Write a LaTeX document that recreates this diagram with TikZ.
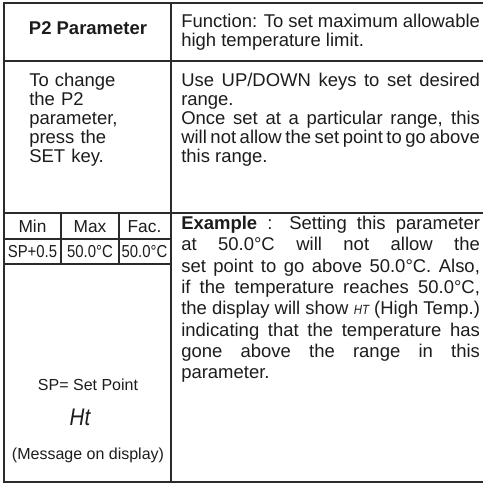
\documentclass[tikz,border=0pt]{standalone}
\usepackage{fontspec}
\setmainfont{Liberation Sans}
\newfontfamily\narrowsf[FakeStretch=0.86]{Liberation Sans}
\usetikzlibrary{positioning}
\definecolor{linegray}{HTML}{2B2B2B}
\definecolor{ink}{HTML}{1C1C1C}
\hyphenpenalty=10000
\exhyphenpenalty=10000
\hbadness=10000
\tikzset{
  tableframe/.style={draw=linegray, line width=1.5pt},
  gridline/.style={draw=linegray, line width=1.0pt},
  head/.style={font=\fontsize{13.85}{14.25}\selectfont\bfseries, text=ink, inner sep=0pt},
  body/.style={
    anchor=north west, inner sep=0pt, text=ink, align=justify,
    text width=#1, font=\fontsize{13.85}{14.25}\selectfont
  },
  body/.default=224pt,
  minihead/.style={font=\fontsize{13}{13}\selectfont, text=ink, inner sep=0pt},
  minival/.style={font=\fontsize{13}{13}\narrowsf, text=ink, inner sep=0pt},
  note/.style={font=\fontsize{12}{12}\selectfont, text=ink, inner sep=0pt}
}

\begin{document}
\begin{tikzpicture}[x=0.75pt,y=-0.75pt]
  \useasboundingbox (0,0) rectangle (483,484);
  % table rules
  \draw[tableframe] (483,3) -- (4,3) -- (4,482) -- (483,482);
  \draw[tableframe] (171,3) -- (171,482);
  \foreach \y in {61,213} \draw[gridline] (4,\y) -- (483,\y);
  \foreach \y in {239,264} \draw[gridline] (4,\y) -- (171,\y);
  \foreach \x in {61,119} \draw[gridline] (\x,213) -- (\x,264);
  % first row
  \node[head] (ptitle) at (88,28) {P2 Parameter};
  \node[body] (pfunc) at (181,14) {Function: To set maximum allowable high temperature limit.};
  % second row
  \node[body=80pt, align=left] (pkey) at (29,72.5) {To change\\the P2\\parameter,\\press the\\SET key.};
  \node[body] (puse) at (181,72.5) {Use UP/DOWN keys to set desired range.\\
    Once set at a particular range, this will not allow the set point to go above this range.};
  % min / max / factory values
  \foreach \x/\lab/\val [count=\i] in {32.5/Min/SP+0.5, 90/Max/50.0°C, 144.5/Fac./50.0°C} {
    \node[minihead] (mhead\i) at (\x,226.5) {\lab};
    \node[minival] (mval\i) at (\x,251.5) {\val};
  }
  \node[note] (spnote) at (88,385) {SP= Set Point};
  \node[font=\fontsize{18}{18}\narrowsf\itshape, text=ink, inner sep=0pt] (htmsg) at (80,417) {Ht};
  \node[note] (msgnote) at (88,455) {(Message on display)};
  % example
  \node[body, font=\fontsize{13.85}{16}\selectfont] (pexample) at (181,216) {%
    \textbf{Example} : Setting this parameter\linebreak
    at 50.0°C will not allow the\linebreak
    set point to go above 50.0°C. Also,\linebreak
    if the temperature reaches 50.0°C,\linebreak
    the display will show {\fontsize{10}{10}\narrowsf\itshape HT} (High Temp.)\linebreak
    indicating that the temperature has\linebreak
    gone above the range in this\linebreak
    parameter.};
\end{tikzpicture}
\end{document}
